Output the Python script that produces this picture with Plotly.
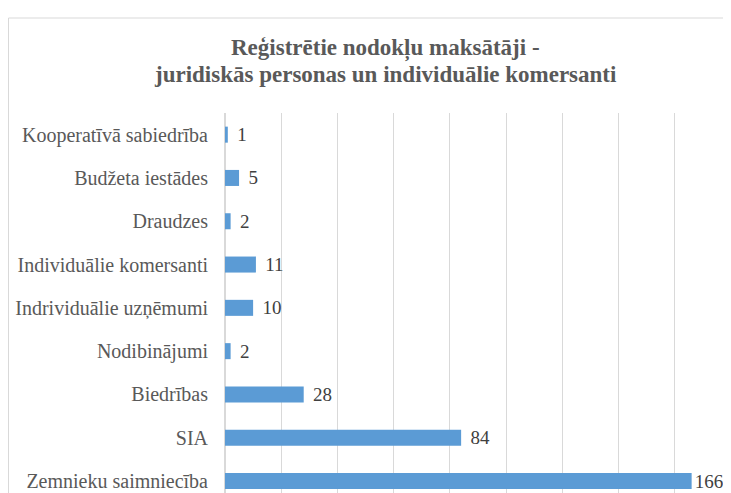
import plotly.graph_objects as go

categories = [
    "Kooperatīvā sabiedrība",
    "Budžeta iestādes",
    "Draudzes",
    "Individuālie komersanti",
    "Indrividuālie uzņēmumi",
    "Nodibinājumi",
    "Biedrības",
    "SIA",
    "Zemnieku saimniecība",
]
values = [1, 5, 2, 11, 10, 2, 28, 84, 166]
title_lines = ["Reģistrētie nodokļu maksātāji -", "juridiskās personas un individuālie komersanti"]

# page has an 8px body margin; figure offset accordingly
W, H = 723, 485
L, T = 217, 105
PX_PER_CAT = 43.3
VISIBLE_RIGHT = 715  # figure px visible in the window
SERIF = "Liberation Serif, Times New Roman, serif"

xmax = 180
plot_w = W - L
labels = []
for v in values:
    end_px = v / xmax * plot_w
    # keep a gap like the reference, but tighten it if the label would run off the window
    labels.append(("\u2004" if end_px + 40 < VISIBLE_RIGHT - L else "") + str(v))

fig = go.Figure(go.Bar(
    x=values, y=categories, orientation="h",
    marker=dict(color="#5B9BD5", line=dict(width=0)),
    text=labels, textposition="outside",
    textfont=dict(family=SERIF, size=19, color="#404040"),
    constraintext="none",
    cliponaxis=False,
))

annotations = []
for line, yc in zip(title_lines, [40, 67]):
    annotations.append(dict(text="<b>" + line + "</b>", xref="paper", yref="paper",
                            x=(377 - L) / (W - L), y=1 + (T - yc) / (H - T),
                            xanchor="center", yanchor="middle", showarrow=False,
                            font=dict(family=SERIF, size=23, color="#595959")))

fig.update_layout(
    width=W, height=H,
    margin=dict(l=L, r=0, t=T, b=0, autoexpand=False),
    paper_bgcolor="white", plot_bgcolor="white",
    bargap=0.63,
    showlegend=False,
    annotations=annotations,
    xaxis=dict(range=[0, xmax], dtick=20, showgrid=True, gridcolor="#D9D9D9",
               gridwidth=1, showticklabels=False, zeroline=True, zerolinecolor="#D9D9D9",
               showline=False, fixedrange=True, automargin=False),
    yaxis=dict(categoryorder="array", categoryarray=categories,
               range=[(H - T) / PX_PER_CAT - 0.5, -0.5], showline=False, ticks="", automargin=False,
               ticklabelstandoff=16, showgrid=False,
               tickfont=dict(family=SERIF, size=20, color="#595959")),
    shapes=[dict(type="rect", xref="paper", yref="paper",
                 x0=-(L - 0.5) / (W - L), x1=1.2, y0=-0.2, y1=1 + (T - 10) / (H - T),
                 line=dict(color="#D9D9D9", width=1), fillcolor="rgba(0,0,0,0)", layer="below")],
)

fig.write_html("out.html")
